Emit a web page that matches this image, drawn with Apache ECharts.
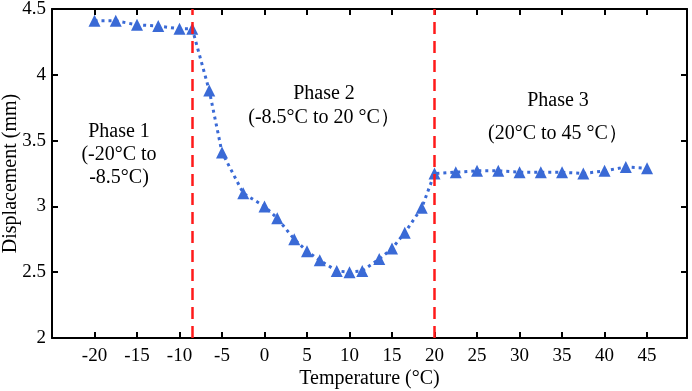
<!DOCTYPE html>
<html>
<head>
<meta charset="utf-8">
<script src="https://cdn.jsdelivr.net/npm/echarts@6/dist/echarts.min.js"></script>
<style>
  html, body { margin: 0; padding: 0; background: #fff; }
  #chart { width: 692px; height: 391px; }
</style>
</head>
<body>
<div id="chart"></div>
<script>
// temperature (°C) and displacement (mm)
let temps = [-20, -17.5, -15, -12.5, -10, -8.5, -6.5, -5, -2.5, 0, 1.5, 3.5, 5, 6.5, 8.5, 10, 11.5, 13.5, 15, 16.5, 18.5, 20,
  22.5, 25, 27.5, 30, 32.5, 35, 37.5, 40, 42.5, 45]
let disp = [4.41, 4.41, 4.38, 4.37, 4.35, 4.35, 3.88, 3.41, 3.10, 3.00, 2.91, 2.75, 2.66, 2.59, 2.51, 2.50, 2.51, 2.60, 2.68, 2.80, 2.99, 3.25,
  3.26, 3.27, 3.27, 3.26, 3.26, 3.26, 3.25, 3.27, 3.30, 3.29]
let phaseBounds = [-8.5, 20]
let xTicks = [-20, -15, -10, -5, 0, 5, 10, 15, 20, 25, 30, 35, 40, 45]

let font = 'Liberation Serif'
let chart = echarts.init(document.getElementById('chart'))

function axisBase(showLabel) {
  return {
    axisLine: { show: true, onZero: false, lineStyle: { color: '#000', width: 2 } },
    axisTick: { show: true, inside: true, length: 6, lineStyle: { color: '#000', width: 2 } },
    splitLine: { show: false },
    axisLabel: { show: showLabel, color: '#000', fontFamily: font, fontSize: 19 }
  }
}

let xMain = Object.assign(axisBase(true), {
  type: 'value', min: -25, max: 49.7, interval: 5,
  name: 'Temperature (\u00B0C)', nameLocation: 'middle', nameGap: 31, nameMoveOverlap: false,
  nameTextStyle: { color: '#000', fontFamily: font, fontSize: 20 }
})
xMain.axisLabel.showMinLabel = false
xMain.axisLabel.showMaxLabel = false
xMain.axisLabel.margin = 9
xMain.axisLabel.formatter = function (v) { return xTicks.indexOf(v) >= 0 ? String(v) : '' }

let xTop = Object.assign(axisBase(false), { type: 'value', position: 'top', min: -25, max: 49.7, interval: 5 })

let yMain = Object.assign(axisBase(true), {
  type: 'value', min: 2, max: 4.5, interval: 0.5,
  name: 'Displacement (mm)', nameLocation: 'middle', nameGap: 31, nameMoveOverlap: false,
  nameTextStyle: { color: '#000', fontFamily: font, fontSize: 20 }
})
yMain.axisLabel.margin = 6
let yRight = Object.assign(axisBase(false), { type: 'value', position: 'right', min: 2, max: 4.5, interval: 0.5 })

function phaseText(x, y, text, lh) {
  return {
    type: 'text', x: x, y: y,
    style: { text: text, fill: '#000', font: '20px "' + font + '"', align: 'center', verticalAlign: 'top', lineHeight: lh }
  }
}

chart.setOption({
  animation: false,
  grid: { left: 52, right: 5, top: 9, bottom: 53, outerBoundsMode: 'none' },
  xAxis: [xMain, xTop],
  yAxis: [yMain, yRight],
  graphic: [
    phaseText(119, 120, 'Phase 1\n(-20\u00B0C to\n-8.5\u00B0C)', 23),
    phaseText(324, 82, 'Phase 2\n(-8.5\u00B0C to 20 \u00B0C\uFF09', 24),
    phaseText(558, 84, 'Phase 3\n(20\u00B0C to 45 \u00B0C\uFF09', 33)
  ],
  series: [{
    type: 'line',
    data: temps.map((t, i) => [t, disp[i]]),
    symbol: 'triangle',
    symbolSize: 12,
    itemStyle: { color: '#3a6ad6' },
    lineStyle: { color: '#3a6ad6', width: 3, type: [3, 4] },
    markLine: {
      silent: true,
      symbol: 'none',
      label: { show: false },
      lineStyle: { color: '#ff1a1a', width: 2.5, type: [12, 7] },
      data: phaseBounds.map(v => ({ xAxis: v }))
    },
    z: 3
  }]
})
</script>
</body>
</html>
